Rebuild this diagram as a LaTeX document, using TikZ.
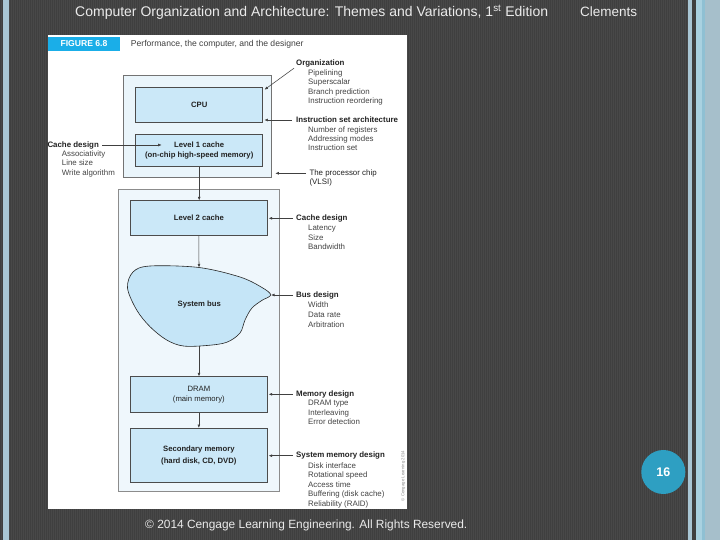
\documentclass[tikz,border=0pt]{standalone}
\usepackage{fontspec}
\setmainfont{Liberation Sans}
\usetikzlibrary{arrows.meta}
\definecolor{bgdark}{HTML}{3F3F3F}
\definecolor{bgstripe}{HTML}{484848}
\definecolor{edgelight}{HTML}{A9C6D4}
\definecolor{edgeblue}{HTML}{A9D1E0}
\definecolor{edgemid}{HTML}{8FC0D3}
\definecolor{edgegray}{HTML}{A6BFCB}
\definecolor{figblue}{HTML}{1AAEE8}
\definecolor{chipfill}{HTML}{EAF5FB}
\definecolor{memfill}{HTML}{EFF7FC}
\definecolor{boxfill}{HTML}{CBE8F8}
\definecolor{busfill}{HTML}{C5E5F7}
\definecolor{txt}{HTML}{222222}
\definecolor{itemtxt}{HTML}{444444}
\definecolor{pagecirc}{HTML}{2E9FC2}
\begin{document}
\begin{tikzpicture}[x=1pt,y=-1pt,
  outerbox/.style={draw=black!55,line width=0.5pt,inner sep=0pt},
  innerbox/.style={draw=black!70,line width=0.6pt,fill=boxfill,inner sep=0pt,
    font=\fontsize{7.7}{10}\selectfont\bfseries,text=txt,align=center},
  head/.style={anchor=west,inner sep=0pt,text height=5.8pt,text depth=1.6pt,
    font=\fontsize{7.9}{9.5}\selectfont\bfseries,text=txt},
  item/.style={anchor=west,inner sep=0pt,text height=5.8pt,text depth=1.6pt,
    font=\fontsize{7.9}{9.5}\selectfont,text=itemtxt},
  arr/.style={draw=black!75,line width=0.55pt,-{Latex[length=3.5pt,width=2.8pt]}},
  slidetxt/.style={inner sep=0pt,text=white!92!black,anchor=west}]
\useasboundingbox (0,0) rectangle (720,540);
% background
\fill[bgdark] (0,0) rectangle (720,540);
\foreach \x in {1,3,...,719} \fill[bgstripe] (\x,0) rectangle ++(1,540);
\fill[edgelight] (3,0) rectangle (8.5,540);
\fill[edgelight] (688,0) rectangle (692,540);
\fill[bgdark] (692,0) rectangle (696,540);
\fill[edgeblue] (696,0) rectangle (702,540);
\fill[edgemid] (702,0) rectangle (705,540);
\fill[edgegray] (705,0) rectangle (720,540);
% slide texts
\node[slidetxt,font=\fontsize{14}{16}\selectfont] (title) at (75,12)
  {Computer Organization and Architecture: Themes and Variations, 1\textsuperscript{st} Edition};
\node[slidetxt,font=\fontsize{13.5}{15}\selectfont] (author) at (580,12) {Clements};
\node[slidetxt,font=\fontsize{11.9}{14}\selectfont] (footer) at (145,525)
  {© 2014 Cengage Learning Engineering. All Rights Reserved.};
\node[circle,fill=pagecirc,minimum size=44pt,inner sep=0pt,text=white,
  font=\fontsize{12.5}{14}\selectfont\bfseries] (pagenum) at (663.3,472) {16};
% white panel
\fill[white] (47.5,35.5) rectangle (407,508.5);
\node[fill=figblue,minimum width=72pt,minimum height=14pt,inner sep=0pt,text=white,
  font=\fontsize{8.6}{10}\selectfont\bfseries] (figlabel) at (84,44) {FIGURE 6.8};
\node[anchor=west,inner sep=0pt,text=black!75,font=\fontsize{8.6}{10}\selectfont]
  (figtitle) at (130.7,44) {Performance, the computer, and the designer};
% boxes
\node[outerbox,fill=memfill,draw=black!45,minimum width=161pt,minimum height=302.7pt] (mem) at (198.8,340.35) {};
\node[outerbox,fill=chipfill,minimum width=148.4pt,minimum height=102pt] (chip) at (197.5,126.7) {};
\node[innerbox,minimum width=127pt,minimum height=35pt] (cpu) at (199.2,104.8) {CPU};
\node[innerbox,minimum width=127pt,minimum height=32.4pt] (l1) at (199.2,150.5)
  {Level 1 cache\\(on-chip high-speed memory)};
\node[innerbox,minimum width=137.7pt,minimum height=35pt] (l2) at (198.85,218.2) {Level 2 cache};
\node[innerbox,minimum width=137.7pt,minimum height=36pt,font=\fontsize{7.7}{10.6}\selectfont] (dram) at (198.85,394.7)
  {DRAM\\(main memory)};
\node[innerbox,minimum width=137.7pt,minimum height=54pt,font=\fontsize{7.7}{11.5}\selectfont\bfseries] (sec) at (198.85,455.3)
  {Secondary memory\\(hard disk, CD, DVD)};
% system bus blob
\draw[draw=black!85,line width=0.6pt,fill=busfill] plot[smooth cycle,tension=0.55] coordinates {
  (150,266) (199,267.5) (240,277) (262,287.5) (270.7,295) (261.7,300.5) (251.7,308.3)
  (245,320) (240,333) (226.7,342.3) (206.7,345.5) (183.3,346) (166.7,340)
  (150,326.7) (136.7,310) (127.5,288) (133,272)};
\coordinate (bustop) at (199,267.5);
\coordinate (busbot) at (199,345.6);
\coordinate (bustip) at (270.7,295);
\node[inner sep=0pt,font=\fontsize{7.7}{10}\selectfont\bfseries,text=txt] (buslabel) at (199.3,305) {System bus};
% vertical connectors
\draw[arr] (l1.south) -- (l1.south |- l2.north);
\draw[arr] (l2.south) -- (bustop);
\draw[arr] (busbot) -- (busbot |- dram.north);
\draw[arr] (dram.south) -- (sec.north);
% right-hand labels
\node[head] (org) at (296,63.3) {Organization};
\node[item] (org1) at (308,73.3) {Pipelining};
\node[item] (org2) at (308,82.7) {Superscalar};
\node[item] (org3) at (308,92) {Branch prediction};
\node[item] (org4) at (308,101.3) {Instruction reordering};
\draw[arr] ([xshift=-2pt,yshift=-1pt]org.south west) -- ([xshift=1.5pt,yshift=-2.7pt]cpu.north east);

\node[head] (isa) at (296,120) {Instruction set architecture};
\node[item] (isa1) at (308,130) {Number of registers};
\node[item] (isa2) at (308,139.3) {Addressing modes};
\node[item] (isa3) at (308,148.7) {Instruction set};
\draw[arr] ([xshift=-4pt]isa.west) -- ([xshift=1.3pt]isa.west -| cpu.east);

\node[item,text=txt] (vlsi) at (309.3,173.3) {The processor chip};
\node[item,text=txt] (vlsi2) at (309.3,182.7) {(VLSI)};
\draw[arr] ([xshift=-3.3pt]vlsi.west) -- ([xshift=3.3pt]vlsi.west -| chip.east);

\node[head] (cd2) at (296,218.3) {Cache design};
\node[item] (cd21) at (308,228.7) {Latency};
\node[item] (cd22) at (308,238) {Size};
\node[item] (cd23) at (308,247.7) {Bandwidth};
\draw[arr] ([xshift=-3pt]cd2.west) -- ([xshift=0.6pt]cd2.west -| l2.east);

\node[head] (busd) at (296,295) {Bus design};
\node[item] (busd1) at (308,305.3) {Width};
\node[item] (busd2) at (308,315.3) {Data rate};
\node[item] (busd3) at (308,325.3) {Arbitration};
\draw[arr] ([xshift=-3pt]busd.west) -- ([xshift=0.3pt]bustip);

\node[head] (memd) at (296,394.3) {Memory design};
\node[item] (memd1) at (308,403.3) {DRAM type};
\node[item] (memd2) at (308,413) {Interleaving};
\node[item] (memd3) at (308,422.7) {Error detection};
\draw[arr] ([xshift=-3pt]memd.west) -- ([xshift=0.6pt]memd.west -| dram.east);

\node[head] (sysd) at (296,455.7) {System memory design};
\node[item] (sysd1) at (308,466) {Disk interface};
\node[item] (sysd2) at (308,475.7) {Rotational speed};
\node[item] (sysd3) at (308,485) {Access time};
\node[item] (sysd4) at (308,494.7) {Buffering (disk cache)};
\node[item] (sysd5) at (308,504) {Reliability (RAID)};
\draw[arr] ([xshift=-3pt]sysd.west) -- ([xshift=0.6pt]sysd.west -| sec.east);

% left-hand label
\node[head] (cd1) at (47.3,145) {Cache design};
\node[item] (cd11) at (61.7,154.3) {Associativity};
\node[item] (cd12) at (61.7,163.7) {Line size};
\node[item] (cd13) at (61.7,173) {Write algorithm};
\coordinate (l1in) at (161.7,145);
\draw[arr] ([xshift=3pt]cd1.east) -- (l1in);

% copyright line
\node[rotate=90,inner sep=0pt,text=black!45,font=\fontsize{4.3}{5}\selectfont] (credit) at (403.3,476) {© Cengage Learning 2014};
\end{tikzpicture}
\end{document}
